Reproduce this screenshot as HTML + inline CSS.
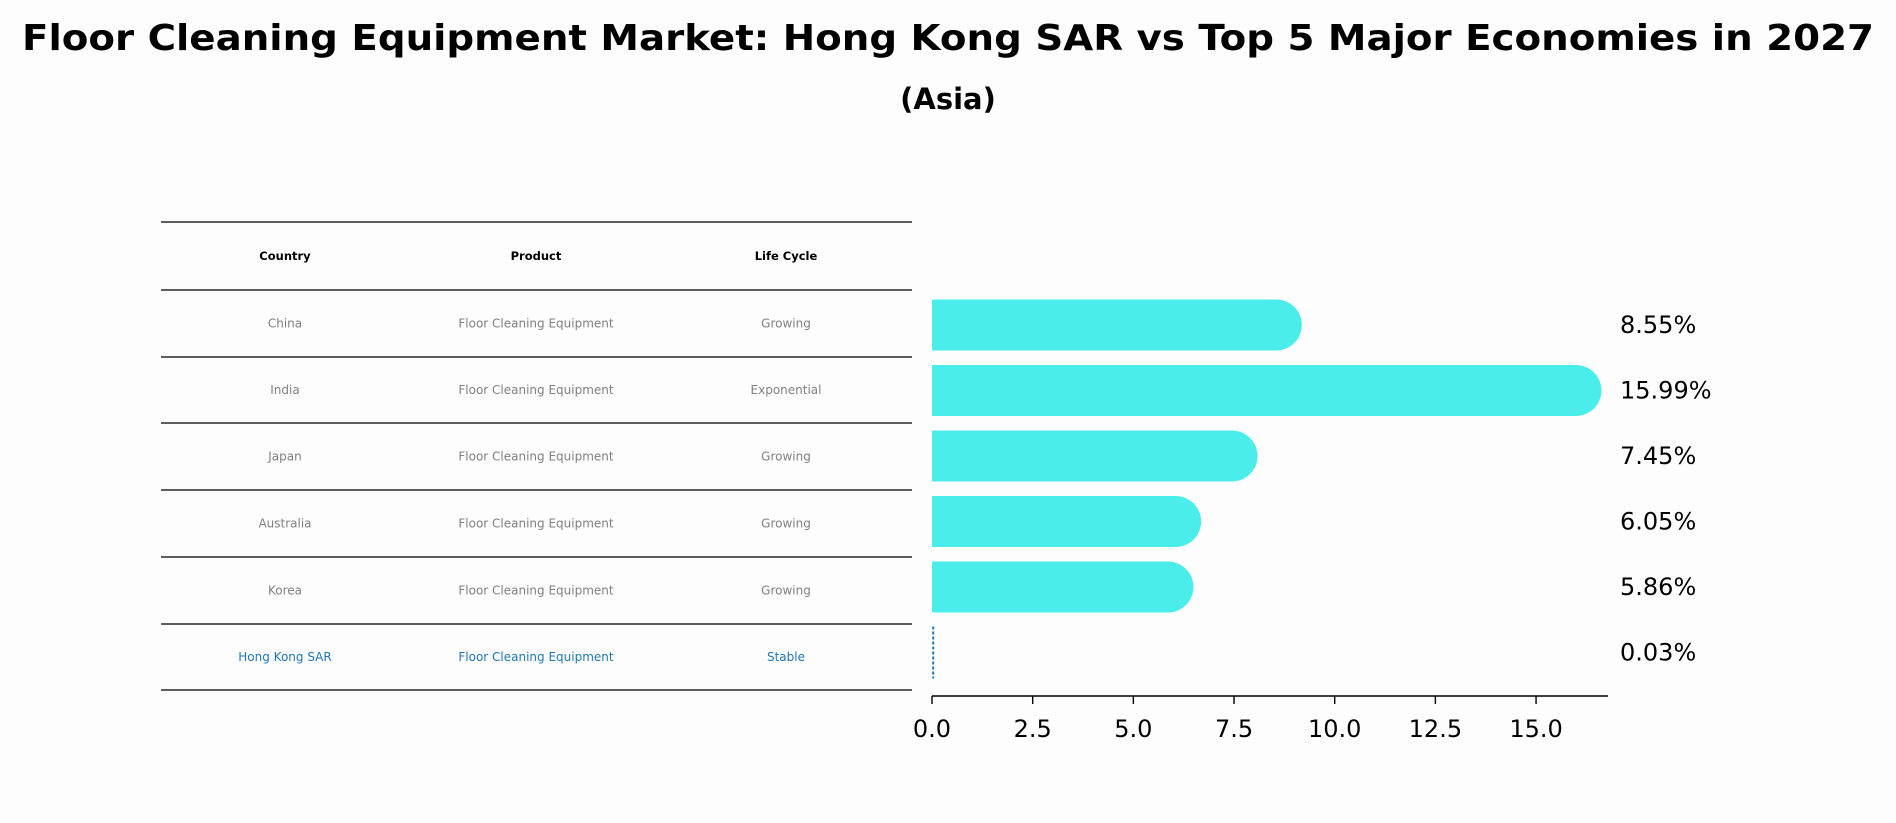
<!DOCTYPE html>
<html><head><meta charset="utf-8"><style>
html,body{margin:0;padding:0;background:#fdfdfd;}
svg{display:block;font-family:"DejaVu Sans","Liberation Sans",sans-serif;}
</style></head><body>
<svg id="chart" width="1896" height="823" viewBox="0 0 1896 823">
<rect width="1896" height="823" fill="#fdfdfd"/>
<text x="948" y="50" text-anchor="middle" font-size="36" font-weight="bold" textLength="1852" lengthAdjust="spacingAndGlyphs">Floor Cleaning Equipment Market: Hong Kong SAR vs Top 5 Major Economies in 2027</text>
<text x="948" y="109" text-anchor="middle" font-size="29" font-weight="bold">(Asia)</text>
<g id="table"></g>
<g id="bars"></g>
</svg>
<script>
const countries = ["China","India","Japan","Australia","Korea","Hong Kong SAR"];
const products = ["Floor Cleaning Equipment","Floor Cleaning Equipment","Floor Cleaning Equipment","Floor Cleaning Equipment","Floor Cleaning Equipment","Floor Cleaning Equipment"];
const lifeCycles = ["Growing","Exponential","Growing","Growing","Growing","Stable"];
const values = [8.55,15.99,7.45,6.05,5.86,0.03];
const valueLabels = ["8.55%","15.99%","7.45%","6.05%","5.86%","0.03%"];
const xTicks = [0,2.5,5,7.5,10,12.5,15];
const xTickLabels = ["0.0","2.5","5.0","7.5","10.0","12.5","15.0"];

const NS="http://www.w3.org/2000/svg";
function mk(tag, attrs, parent){const e=document.createElementNS(NS,tag);for(const k in attrs)e.setAttribute(k,attrs[k]);parent.appendChild(e);return e;}
const xScale = v => 932 + v*40.27;
const rowY = i => 325 + i*65.5;
const table=document.getElementById('table');
const bars=document.getElementById('bars');

// table lines
const lineYs=[222,290,357,423,490,557,624,690];
lineYs.forEach((y,i)=>{
  const l=mk('line',{x1:161,x2:912,y1:y,y2:y,stroke:'#000','stroke-width':1.3},table);
  
  
});
const colX=[285,536,786];
["Country","Product","Life Cycle"].forEach((h,j)=>{
  const t=mk('text',{x:colX[j],y:260,'text-anchor':'middle','font-size':11.5,'font-weight':'bold'},table);
  t.textContent=h;
  
  
});
countries.forEach((c,i)=>{
  const y=(lineYs[i+1]+lineYs[i+2])/2+4;
  const col=i===countries.length-1?'#1f77b4':'#808080';
  [c,products[i],lifeCycles[i]].forEach((v,j)=>{
    const t=mk('text',{x:colX[j],y:y,'text-anchor':'middle','font-size':12,fill:col},table);
    t.textContent=v;
    
    
  });
});

// bars
const h=51, r=25.5;
values.forEach((v,i)=>{
  const cy=rowY(i), x0=xScale(0), x1=xScale(v);
  if(i===values.length-1){
    const l=mk('line',{x1:x1,x2:x1,y1:cy-26,y2:cy+26,stroke:'#1f77b4','stroke-width':2,'stroke-dasharray':'3,2'},bars);
    
    
  } else {
    const p=mk('path',{d:`M${x0},${cy-h/2} H${x1} A${r},${r} 0 0 1 ${x1},${cy+h/2} H${x0} Z`,fill:'#4aede9'},bars);
    
    
  }
  const t=mk('text',{x:1620,y:cy+8,'font-size':24},bars);
  t.textContent=valueLabels[i];
  
  
});

// axis
const ax=mk('line',{x1:932,x2:1608,y1:696,y2:696,stroke:'#000','stroke-width':1.6},bars);


xTicks.forEach((v,i)=>{
  const x=xScale(v);
  const tk=mk('line',{x1:x,x2:x,y1:696,y2:704,stroke:'#000','stroke-width':1.4},bars);
  
  
  const t=mk('text',{x:x,y:737,'text-anchor':'middle','font-size':24},bars);
  t.textContent=xTickLabels[i];
  
  
});
</script>
</body></html>
